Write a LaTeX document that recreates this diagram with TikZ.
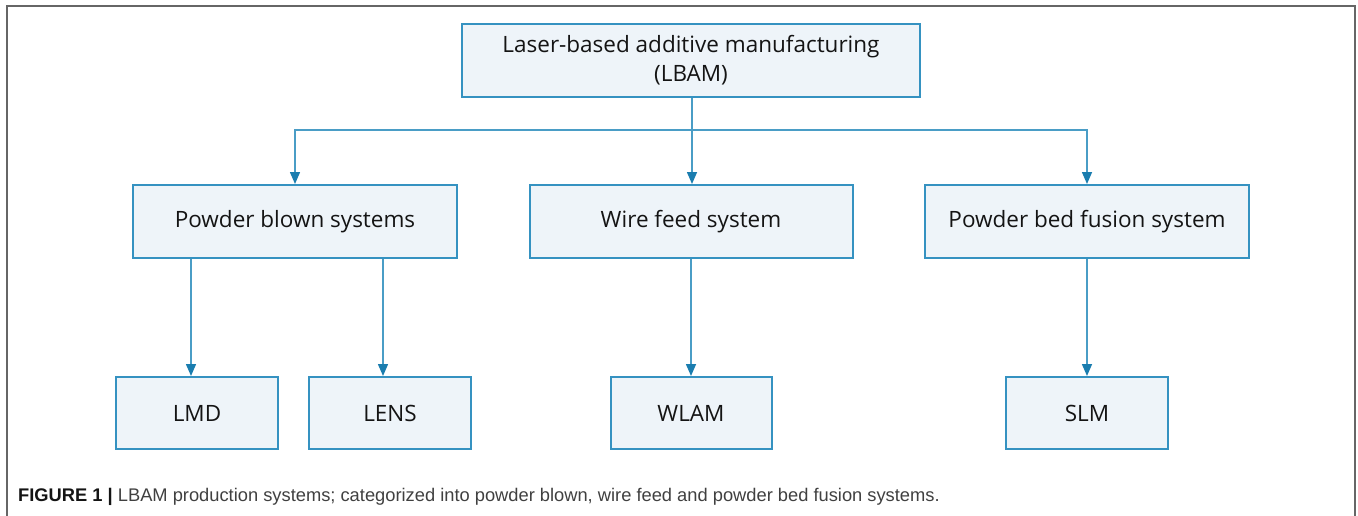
\documentclass[tikz,border=0pt]{standalone}
\usepackage{fontspec}
\setmainfont{Open Sans}
\newfontfamily\capfont{Liberation Sans}
\usetikzlibrary{arrows.meta}
\definecolor{boxedge}{HTML}{3592C1}
\definecolor{boxfill}{HTML}{EEF4F9}
\definecolor{linecol}{HTML}{4A9DC6}
\definecolor{tipcol}{HTML}{1A7DAF}
\definecolor{txt}{HTML}{141414}
\definecolor{frame}{HTML}{666666}
\tikzset{
  box/.style={draw=boxedge, fill=boxfill, line width=2pt, inner sep=0pt,
    text=txt, font=\fontsize{22.5}{29}\selectfont, align=center},
  conn/.style={draw=linecol, line width=1.5pt,
    -{Triangle[length=12pt,width=10pt,fill=tipcol,color=tipcol]}},
}
\begin{document}
\begin{tikzpicture}[x=1pt,y=-1pt]
\useasboundingbox (0,0) rectangle (1358,515);
\draw[frame, line width=1.6pt] (7,520) -- (7,6) -- (1355,6) -- (1355,520);
\node[box, minimum width=458pt, minimum height=73pt] (top) at (691,60.5)
  {Laser-based additive manufacturing\\(LBAM)};
\node[box, minimum width=324pt, minimum height=73pt] (pb) at (295,221.5) {Powder blown systems};
\node[box, minimum width=323pt, minimum height=73pt] (wf) at (691,221.5) {Wire feed system};
\node[box, minimum width=324pt, minimum height=73pt] (pbf) at (1087,221.5) {Powder bed fusion system};
\node[box, minimum width=162pt, minimum height=72pt] (lmd) at (197,413) {LMD};
\node[box, minimum width=162pt, minimum height=72pt] (lens) at (390,413) {LENS};
\node[box, minimum width=161pt, minimum height=72pt] (wlam) at (691,413) {WLAM};
\node[box, minimum width=162pt, minimum height=72pt] (slm) at (1087,413) {SLM};
\coordinate (j) at (692,130);
\draw[conn] (top.south -| j) -- (wf.north -| j);
\draw[conn] (j) -| (pb.north);
\draw[conn] (j) -| (pbf.north);
\draw[conn] ([xshift=-6pt]lmd.north |- pb.south) -- ([xshift=-6pt]lmd.north);
\draw[conn] ([xshift=-7pt]lens.north |- pb.south) -- ([xshift=-7pt]lens.north);
\draw[conn] (wlam.north |- wf.south) -- (wlam.north);
\draw[conn] (slm.north |- pbf.south) -- (slm.north);
\node[anchor=west, inner sep=0pt, text=txt, font=\capfont\fontsize{18.3}{21}\selectfont] (cap) at (18,497)
  {\textbf{FIGURE 1 |} {\color{black!75}LBAM production systems; categorized into powder blown, wire feed and powder bed fusion systems.}};
\end{tikzpicture}
\end{document}
